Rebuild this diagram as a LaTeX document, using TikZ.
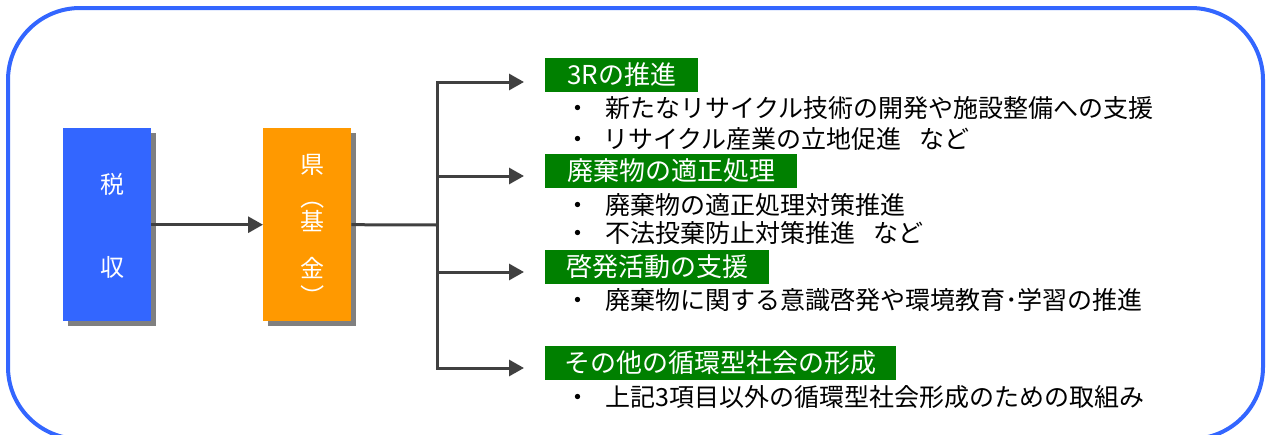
\documentclass[tikz,border=0pt]{standalone}
\usepackage{fontspec}
\setmainfont{Noto Sans CJK JP}
\usetikzlibrary{arrows.meta,shadows}
\definecolor{frameblue}{RGB}{51,102,255}
\definecolor{boxblue}{RGB}{51,102,255}
\definecolor{boxorange}{RGB}{255,153,0}
\definecolor{labelgreen}{RGB}{0,128,0}
\definecolor{linegray}{RGB}{64,64,64}
\definecolor{shadowgray}{RGB}{128,128,128}
\begin{document}
\begin{tikzpicture}[x=1pt,y=-1pt,
  srcbox/.style={minimum width=88pt,minimum height=193pt,inner sep=0pt,anchor=north west,
    drop shadow={shadow xshift=5pt,shadow yshift=-5pt,fill=shadowgray,opacity=1}},
  boxtext/.style={text=white,font=\fontsize{24pt}{24pt}\selectfont,inner sep=0pt,text height=21pt,text depth=3pt},
  link/.style={draw=linegray,line width=3pt},
  conn/.style={link,-{Triangle[length=15pt,width=16pt]}},
  glabel/.style={fill=labelgreen,text=white,anchor=west,minimum height=34pt,inner xsep=0pt,inner ysep=0pt,
    font=\fontsize{26pt}{26pt}\selectfont,text height=22.9pt,text depth=3.1pt},
  item/.style={anchor=base west,inner sep=0pt,font=\fontsize{25pt}{25pt}\selectfont,text=black}
]
\useasboundingbox (0,0) rectangle (1269,434);
\begin{scope}
\clip (0,0) rectangle (1269,434);
\draw[frameblue,line width=4pt,rounded corners=72pt] (8,8) rectangle (1263,439);
\end{scope}

\node[srcbox,fill=boxblue] (tax) at (63,128) {};
\node[srcbox,fill=boxorange] (fund) at (263,128) {};

\node[boxtext] (t1) at (112,184) {税};
\node[boxtext] (t2) at (112,267) {収};
\node[boxtext] (f1) at (312,164) {県};
\node[boxtext,rotate=-90] (f2) at (312,197) {（};
\node[boxtext] (f3) at (312,221) {基};
\node[boxtext] (f4) at (312,268) {金};
\node[boxtext,rotate=-90] (f5) at (312,296) {）};

\draw[conn] (tax.east) -- (fund.west);

\coordinate (split) at (437,225);
\coordinate (j1) at (437,82);
\coordinate (j2) at (437,176);
\coordinate (j3) at (437,272);
\coordinate (j4) at (437,368);
\coordinate (e1) at (524,82);
\coordinate (e2) at (524,176);
\coordinate (e3) at (524,272);
\coordinate (e4) at (524,368);
\draw[link] (fund.east) -- (split);
\draw[link,line cap=rect] (j1) -- (j4);
\draw[conn] (j1) -- (e1);
\draw[conn] (j2) -- (e2);
\draw[conn] (j3) -- (e3);
\draw[conn] (j4) -- (e4);

\node[glabel,minimum width=153pt] (g1) at (545,75) {3Rの推進};
\node[glabel,minimum width=252pt] (g2) at (545,171) {廃棄物の適正処理};
\node[glabel,minimum width=224pt] (g3) at (545,267) {啓発活動の支援};
\node[glabel,minimum width=351pt] (g4) at (545,363) {その他の循環型社会の形成};

\node[item] (i1) at (565,117.5) {・\hspace{15pt}新たなリサイクル技術の開発や施設整備への支援};
\node[item] (i2) at (565,148.5) {・\hspace{13pt}リサイクル産業の立地促進\hspace{18pt}など};
\node[item] (i3) at (565,214.5) {・\hspace{15pt}廃棄物の適正処理対策推進};
\node[item] (i4) at (565,242.5) {・\hspace{15pt}不法投棄防止対策推進\hspace{18pt}など};
\node[item] (i5) at (565,309.5) {・\hspace{15pt}廃棄物に関する意識啓発や環境教育･学習の推進};
\node[item] (i6) at (565,406.5) {・\hspace{15pt}上記3項目以外の循環型社会形成のための取組み};
\end{tikzpicture}
\end{document}
